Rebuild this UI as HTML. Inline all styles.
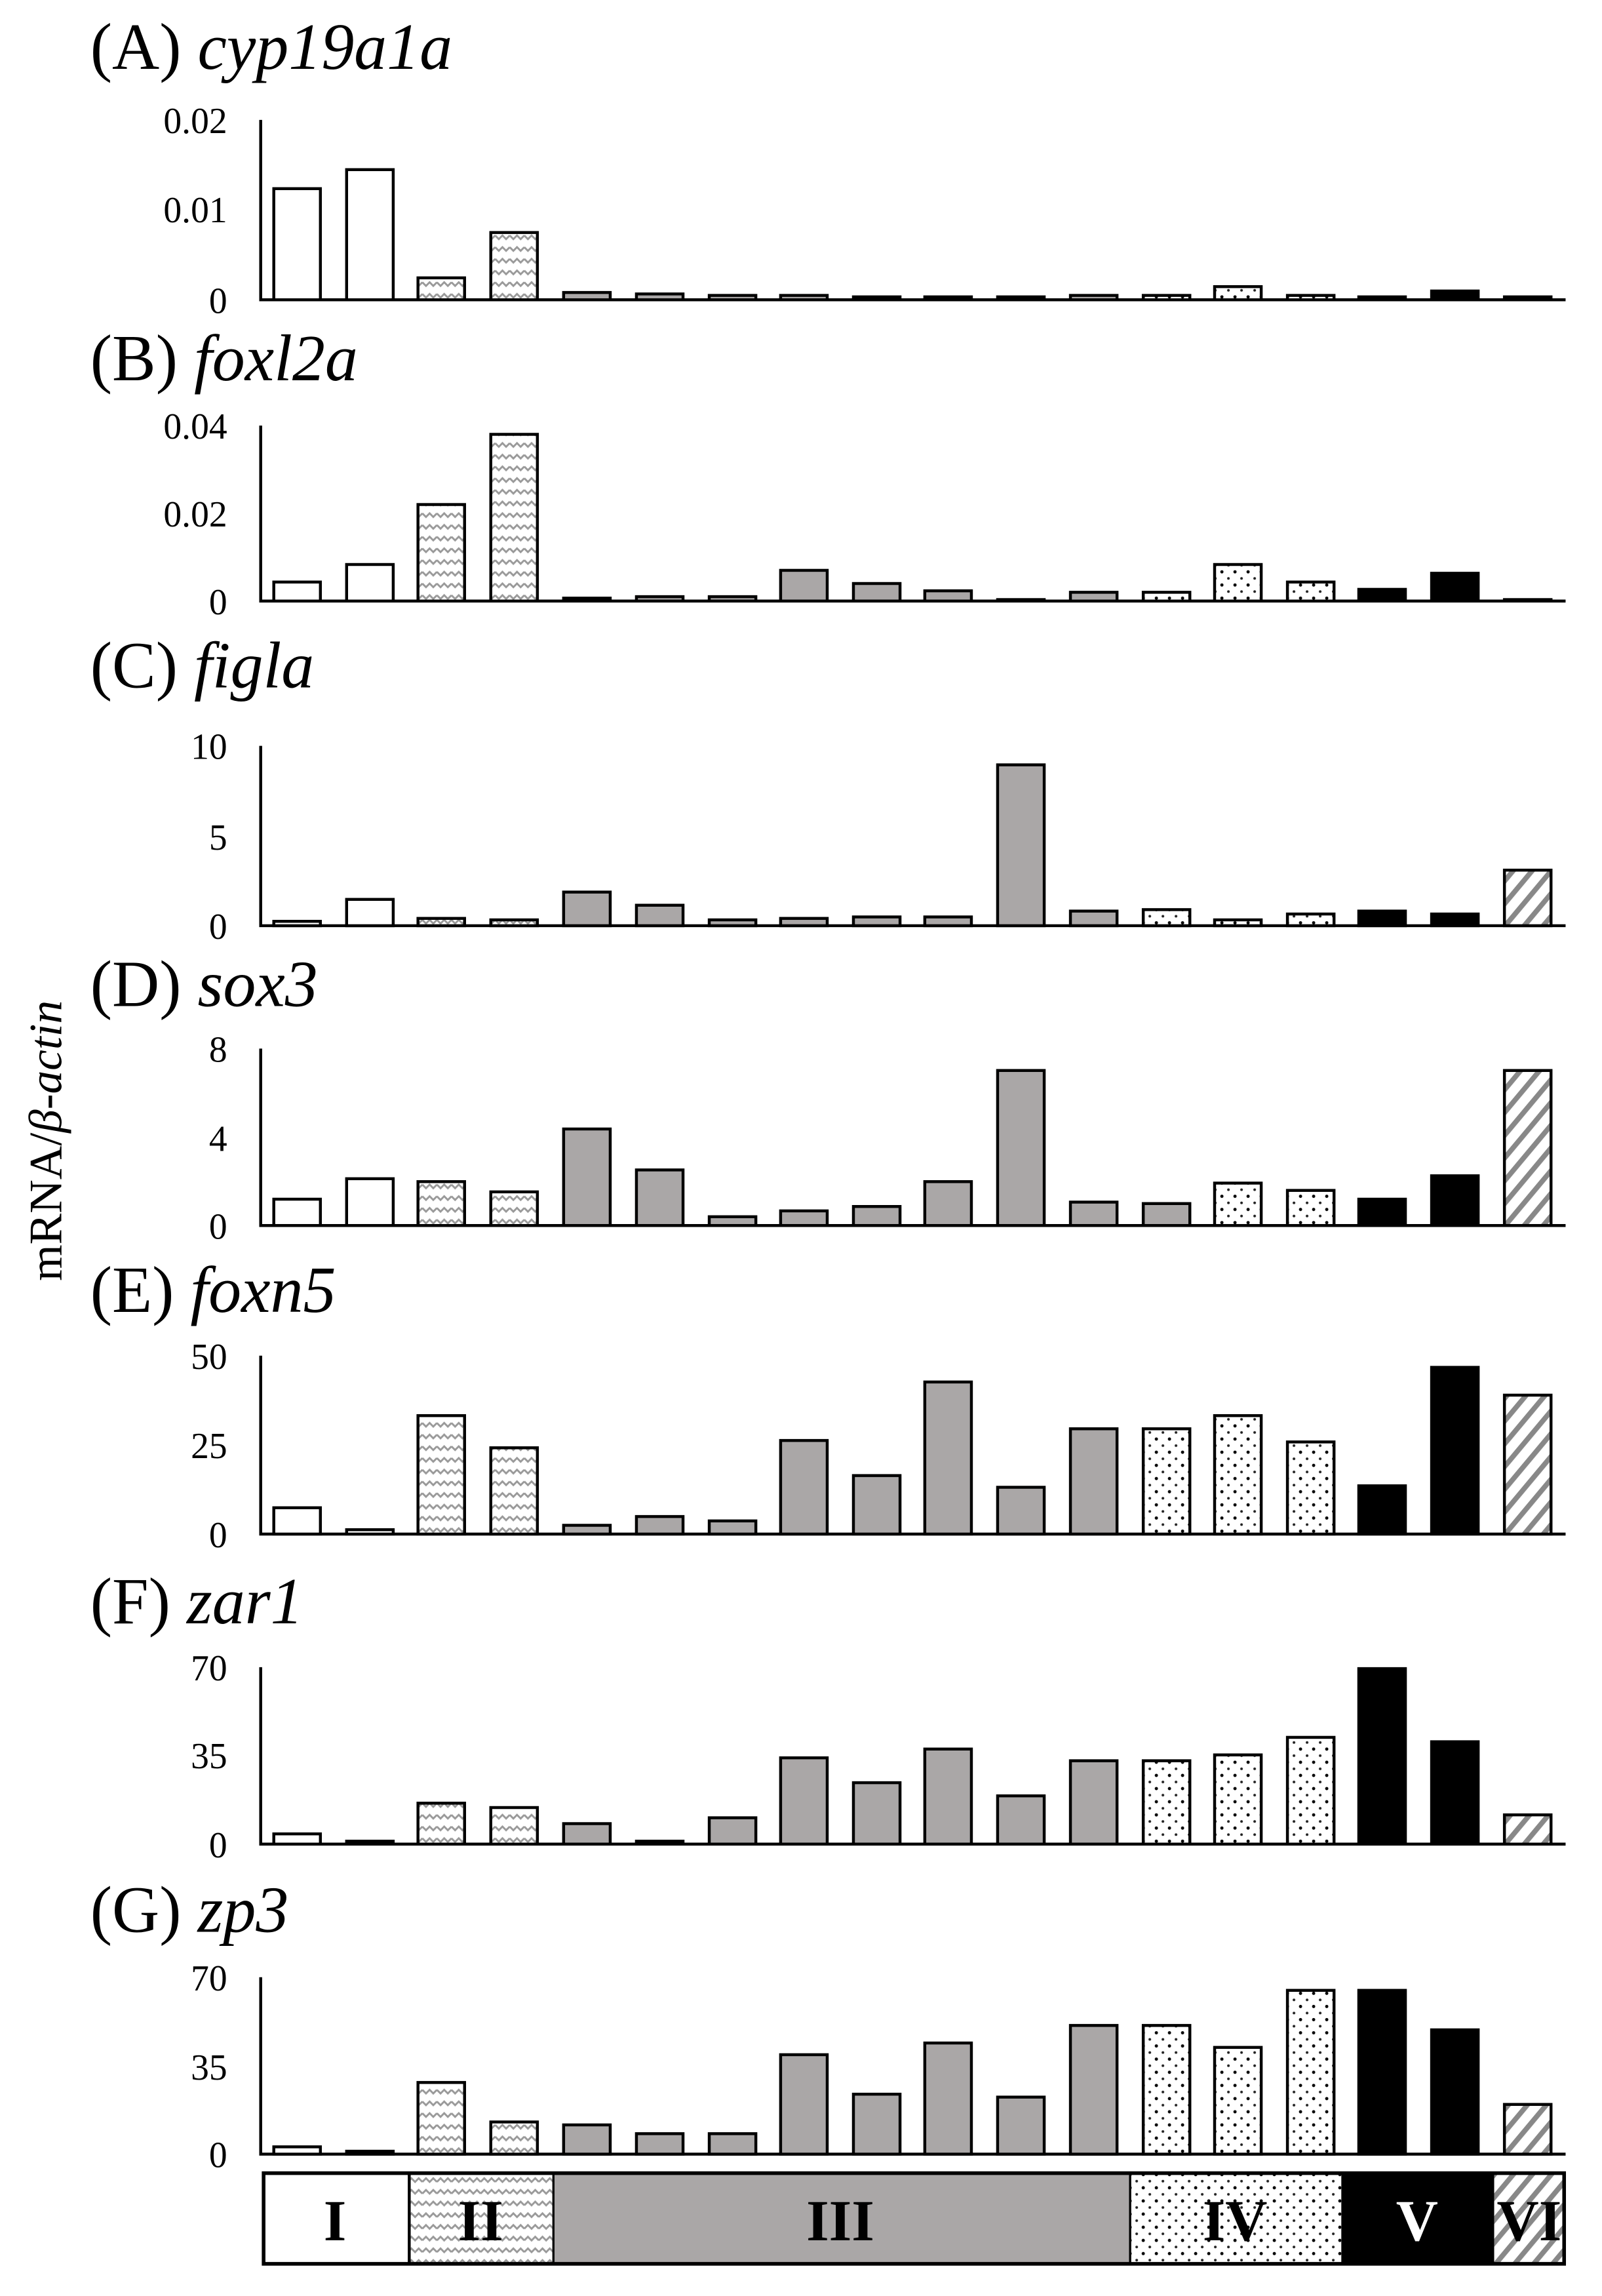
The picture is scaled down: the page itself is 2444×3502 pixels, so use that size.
<!DOCTYPE html>
<html><head><meta charset="utf-8"><style>html,body{margin:0;padding:0;background:#fff}svg{display:block}</style></head>
<body>
<svg width="2444" height="3502" viewBox="0 0 1100 1570" preserveAspectRatio="none" xmlns="http://www.w3.org/2000/svg" font-family="Liberation Serif, serif">
<defs>
<pattern id="wav" width="10" height="8" patternUnits="userSpaceOnUse"><rect width="10" height="8" fill="#fff"/><path d="M0 4 L2.5 1.5 L5 4 L7.5 1.5 L10 4" fill="none" stroke="#999" stroke-width="1.3"/></pattern>
<pattern id="dot" width="9" height="9" patternUnits="userSpaceOnUse"><rect width="9" height="9" fill="#fff"/><circle cx="2" cy="2" r="1.1" fill="#000"/><circle cx="6.5" cy="6.5" r="0.9" fill="#222"/></pattern>
<pattern id="hat" width="10" height="10" patternUnits="userSpaceOnUse" patternTransform="rotate(-40)"><rect width="10" height="10" fill="#fff"/><rect width="3.5" height="10" fill="#888"/></pattern>
<pattern id="hat2" width="10" height="10" patternUnits="userSpaceOnUse" patternTransform="rotate(40)"><rect width="10" height="10" fill="#fff"/><rect width="3.5" height="10" fill="#888"/></pattern>
</defs>
<rect width="1100" height="1570" fill="#fff"/>
<g font-size="45">
<text x="62" y="47">(A) <tspan font-style="italic">cyp19a1a</tspan></text>
<text x="62" y="260">(B) <tspan font-style="italic">foxl2a</tspan></text>
<text x="62" y="470">(C) <tspan font-style="italic">figla</tspan></text>
<text x="62" y="688">(D) <tspan font-style="italic">sox3</tspan></text>
<text x="62" y="897">(E) <tspan font-style="italic">foxn5</tspan></text>
<text x="62" y="1110">(F) <tspan font-style="italic">zar1</tspan></text>
<text x="62" y="1321">(G) <tspan font-style="italic">zp3</tspan></text>
</g>
<text transform="translate(42,780) rotate(-90)" font-size="32" text-anchor="middle">mRNA/<tspan font-style="italic">β-actin</tspan></text>
<g font-size="25" text-anchor="end">
<text x="156" y="91">0.02</text><text x="156" y="152">0.01</text><text x="156" y="214">0</text>
<text x="156" y="300">0.04</text><text x="156" y="360">0.02</text><text x="156" y="420">0</text>
<text x="156" y="519">10</text><text x="156" y="581">5</text><text x="156" y="642">0</text>
<text x="156" y="726">8</text><text x="156" y="787">4</text><text x="156" y="847">0</text>
<text x="156" y="936">50</text><text x="156" y="997">25</text><text x="156" y="1058">0</text>
<text x="156" y="1149">70</text><text x="156" y="1209">35</text><text x="156" y="1270">0</text>
<text x="156" y="1361">70</text><text x="156" y="1422">35</text><text x="156" y="1482">0</text>
</g>
<g stroke="#000" stroke-width="2" fill="none">
<path d="M179 82V205H1075"/><path d="M179 291V411H1075"/><path d="M179 510V633H1075"/><path d="M179 717V838H1075"/><path d="M179 927V1049H1075"/><path d="M179 1140V1261H1075"/><path d="M179 1352V1473H1075"/>
</g>
<g stroke="#000" stroke-width="2">
<g transform="translate(0,205) scale(1,-1)">
<rect x="188" y="0" width="32" height="76" fill="#fff"/><rect x="238" y="0" width="32" height="89" fill="#fff"/><rect x="287" y="0" width="32" height="15" fill="url(#wav)"/><rect x="337" y="0" width="32" height="46" fill="url(#wav)"/><rect x="387" y="0" width="32" height="5" fill="#aaa7a7"/><rect x="437" y="0" width="32" height="4" fill="#aaa7a7"/><rect x="487" y="0" width="32" height="3" fill="#aaa7a7"/><rect x="536" y="0" width="32" height="3" fill="#aaa7a7"/><rect x="586" y="0" width="32" height="2" fill="#aaa7a7"/><rect x="635" y="0" width="32" height="2" fill="#aaa7a7"/><rect x="685" y="0" width="32" height="2" fill="#aaa7a7"/><rect x="735" y="0" width="32" height="3" fill="#aaa7a7"/><rect x="785" y="0" width="32" height="3" fill="url(#dot)"/><rect x="834" y="0" width="32" height="9" fill="url(#dot)"/><rect x="884" y="0" width="32" height="3" fill="url(#dot)"/><rect x="933" y="0" width="32" height="2" fill="#000"/><rect x="983" y="0" width="32" height="6" fill="#000"/><rect x="1033" y="0" width="32" height="2" fill="url(#hat)"/>
</g>
<g transform="translate(0,411) scale(1,-1)">
<rect x="188" y="0" width="32" height="13" fill="#fff"/><rect x="238" y="0" width="32" height="25" fill="#fff"/><rect x="287" y="0" width="32" height="66" fill="url(#wav)"/><rect x="337" y="0" width="32" height="114" fill="url(#wav)"/><rect x="387" y="0" width="32" height="2" fill="#aaa7a7"/><rect x="437" y="0" width="32" height="3" fill="#aaa7a7"/><rect x="487" y="0" width="32" height="3" fill="#aaa7a7"/><rect x="536" y="0" width="32" height="21" fill="#aaa7a7"/><rect x="586" y="0" width="32" height="12" fill="#aaa7a7"/><rect x="635" y="0" width="32" height="7" fill="#aaa7a7"/><rect x="685" y="0" width="32" height="1" fill="#aaa7a7"/><rect x="735" y="0" width="32" height="6" fill="#aaa7a7"/><rect x="785" y="0" width="32" height="6" fill="url(#dot)"/><rect x="834" y="0" width="32" height="25" fill="url(#dot)"/><rect x="884" y="0" width="32" height="13" fill="url(#dot)"/><rect x="933" y="0" width="32" height="8" fill="#000"/><rect x="983" y="0" width="32" height="19" fill="#000"/><rect x="1033" y="0" width="32" height="1" fill="url(#hat)"/>
</g>
<g transform="translate(0,633) scale(1,-1)">
<rect x="188" y="0" width="32" height="3" fill="#fff"/><rect x="238" y="0" width="32" height="18" fill="#fff"/><rect x="287" y="0" width="32" height="5" fill="url(#wav)"/><rect x="337" y="0" width="32" height="4" fill="url(#wav)"/><rect x="387" y="0" width="32" height="23" fill="#aaa7a7"/><rect x="437" y="0" width="32" height="14" fill="#aaa7a7"/><rect x="487" y="0" width="32" height="4" fill="#aaa7a7"/><rect x="536" y="0" width="32" height="5" fill="#aaa7a7"/><rect x="586" y="0" width="32" height="6" fill="#aaa7a7"/><rect x="635" y="0" width="32" height="6" fill="#aaa7a7"/><rect x="685" y="0" width="32" height="110" fill="#aaa7a7"/><rect x="735" y="0" width="32" height="10" fill="#aaa7a7"/><rect x="785" y="0" width="32" height="11" fill="url(#dot)"/><rect x="834" y="0" width="32" height="4" fill="url(#dot)"/><rect x="884" y="0" width="32" height="8" fill="url(#dot)"/><rect x="933" y="0" width="32" height="10" fill="#000"/><rect x="983" y="0" width="32" height="8" fill="#000"/><rect x="1033" y="0" width="32" height="38" fill="url(#hat)"/>
</g>
<g transform="translate(0,838) scale(1,-1)">
<rect x="188" y="0" width="32" height="18" fill="#fff"/><rect x="238" y="0" width="32" height="32" fill="#fff"/><rect x="287" y="0" width="32" height="30" fill="url(#wav)"/><rect x="337" y="0" width="32" height="23" fill="url(#wav)"/><rect x="387" y="0" width="32" height="66" fill="#aaa7a7"/><rect x="437" y="0" width="32" height="38" fill="#aaa7a7"/><rect x="487" y="0" width="32" height="6" fill="#aaa7a7"/><rect x="536" y="0" width="32" height="10" fill="#aaa7a7"/><rect x="586" y="0" width="32" height="13" fill="#aaa7a7"/><rect x="635" y="0" width="32" height="30" fill="#aaa7a7"/><rect x="685" y="0" width="32" height="106" fill="#aaa7a7"/><rect x="735" y="0" width="32" height="16" fill="#aaa7a7"/><rect x="785" y="0" width="32" height="15" fill="#aaa7a7"/><rect x="834" y="0" width="32" height="29" fill="url(#dot)"/><rect x="884" y="0" width="32" height="24" fill="url(#dot)"/><rect x="933" y="0" width="32" height="18" fill="#000"/><rect x="983" y="0" width="32" height="34" fill="#000"/><rect x="1033" y="0" width="32" height="106" fill="url(#hat)"/>
</g>
<g transform="translate(0,1049) scale(1,-1)">
<rect x="188" y="0" width="32" height="18" fill="#fff"/><rect x="238" y="0" width="32" height="3" fill="#fff"/><rect x="287" y="0" width="32" height="81" fill="url(#wav)"/><rect x="337" y="0" width="32" height="59" fill="url(#wav)"/><rect x="387" y="0" width="32" height="6" fill="#aaa7a7"/><rect x="437" y="0" width="32" height="12" fill="#aaa7a7"/><rect x="487" y="0" width="32" height="9" fill="#aaa7a7"/><rect x="536" y="0" width="32" height="64" fill="#aaa7a7"/><rect x="586" y="0" width="32" height="40" fill="#aaa7a7"/><rect x="635" y="0" width="32" height="104" fill="#aaa7a7"/><rect x="685" y="0" width="32" height="32" fill="#aaa7a7"/><rect x="735" y="0" width="32" height="72" fill="#aaa7a7"/><rect x="785" y="0" width="32" height="72" fill="url(#dot)"/><rect x="834" y="0" width="32" height="81" fill="url(#dot)"/><rect x="884" y="0" width="32" height="63" fill="url(#dot)"/><rect x="933" y="0" width="32" height="33" fill="#000"/><rect x="983" y="0" width="32" height="114" fill="#000"/><rect x="1033" y="0" width="32" height="95" fill="url(#hat)"/>
</g>
<g transform="translate(0,1261) scale(1,-1)">
<rect x="188" y="0" width="32" height="7" fill="#fff"/><rect x="238" y="0" width="32" height="2" fill="#fff"/><rect x="287" y="0" width="32" height="28" fill="url(#wav)"/><rect x="337" y="0" width="32" height="25" fill="url(#wav)"/><rect x="387" y="0" width="32" height="14" fill="#aaa7a7"/><rect x="437" y="0" width="32" height="2" fill="#aaa7a7"/><rect x="487" y="0" width="32" height="18" fill="#aaa7a7"/><rect x="536" y="0" width="32" height="59" fill="#aaa7a7"/><rect x="586" y="0" width="32" height="42" fill="#aaa7a7"/><rect x="635" y="0" width="32" height="65" fill="#aaa7a7"/><rect x="685" y="0" width="32" height="33" fill="#aaa7a7"/><rect x="735" y="0" width="32" height="57" fill="#aaa7a7"/><rect x="785" y="0" width="32" height="57" fill="url(#dot)"/><rect x="834" y="0" width="32" height="61" fill="url(#dot)"/><rect x="884" y="0" width="32" height="73" fill="url(#dot)"/><rect x="933" y="0" width="32" height="120" fill="#000"/><rect x="983" y="0" width="32" height="70" fill="#000"/><rect x="1033" y="0" width="32" height="20" fill="url(#hat)"/>
</g>
<g transform="translate(0,1473) scale(1,-1)">
<rect x="188" y="0" width="32" height="5" fill="#fff"/><rect x="238" y="0" width="32" height="2" fill="#fff"/><rect x="287" y="0" width="32" height="49" fill="url(#wav)"/><rect x="337" y="0" width="32" height="22" fill="url(#wav)"/><rect x="387" y="0" width="32" height="20" fill="#aaa7a7"/><rect x="437" y="0" width="32" height="14" fill="#aaa7a7"/><rect x="487" y="0" width="32" height="14" fill="#aaa7a7"/><rect x="536" y="0" width="32" height="68" fill="#aaa7a7"/><rect x="586" y="0" width="32" height="41" fill="#aaa7a7"/><rect x="635" y="0" width="32" height="76" fill="#aaa7a7"/><rect x="685" y="0" width="32" height="39" fill="#aaa7a7"/><rect x="735" y="0" width="32" height="88" fill="#aaa7a7"/><rect x="785" y="0" width="32" height="88" fill="url(#dot)"/><rect x="834" y="0" width="32" height="73" fill="url(#dot)"/><rect x="884" y="0" width="32" height="112" fill="url(#dot)"/><rect x="933" y="0" width="32" height="112" fill="#000"/><rect x="983" y="0" width="32" height="85" fill="#000"/><rect x="1033" y="0" width="32" height="34" fill="url(#hat)"/>
</g>
</g>
<g>
<rect x="181" y="1486" width="100" height="62" fill="#fff"/>
<rect x="281" y="1486" width="99" height="62" fill="url(#wav)"/>
<rect x="380" y="1486" width="396" height="62" fill="#aaa7a7"/>
<rect x="776" y="1486" width="145" height="62" fill="url(#dot)"/>
<rect x="921" y="1486" width="105" height="62" fill="#000"/>
<rect x="1026" y="1486" width="48" height="62" fill="url(#hat2)"/>
<rect x="181" y="1486" width="893" height="62" fill="none" stroke="#000" stroke-width="2.5"/>
<line x1="281" y1="1486" x2="281" y2="1548" stroke="#000" stroke-width="2"/>
<line x1="380" y1="1486" x2="380" y2="1548" stroke="#000" stroke-width="1.5"/>
<line x1="776" y1="1486" x2="776" y2="1548" stroke="#000" stroke-width="1.5"/>
<g font-size="40" font-weight="bold" text-anchor="middle">
<text x="230" y="1532">I</text><text x="330" y="1532">II</text><text x="577" y="1532">III</text><text x="848" y="1532">IV</text><text x="973" y="1532" fill="#fff">V</text><text x="1050" y="1532">VI</text>
</g>
</g>
</svg>
</body></html>
